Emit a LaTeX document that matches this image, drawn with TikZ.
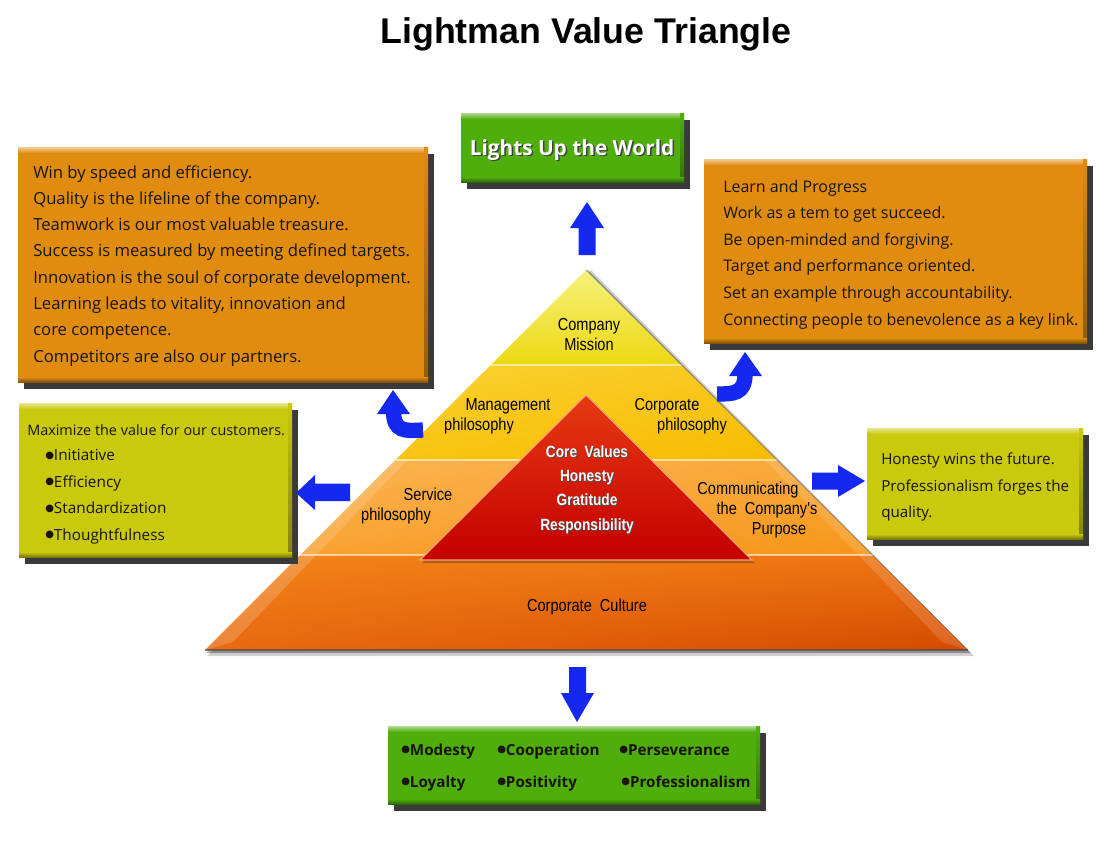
\documentclass[tikz,border=0pt]{standalone}
\usepackage{fontspec}
\setmainfont{Open Sans}
\newfontfamily\titlefont{Liberation Sans}
\newfontfamily\pyrfont[FakeStretch=0.84]{Liberation Sans}
\newfontfamily\dejavu{DejaVu Sans}
\newcommand\bul{\raisebox{1.7pt}{\dejavu\fontsize{7.5}{8}\selectfont ●}}
\usetikzlibrary{calc,fit,shadings}
\definecolor{orbox}{HTML}{E08C10}
\definecolor{olbox}{HTML}{C9C90E}
\definecolor{grbox}{HTML}{4FAE0C}
\definecolor{shad}{HTML}{3A3A3A}
\definecolor{arrblue}{HTML}{1428F0}
\definecolor{txt}{HTML}{1A1408}
\definecolor{c4ul}{HTML}{F38418}\definecolor{c4ur}{HTML}{EE7412}\definecolor{c4ll}{HTML}{E96A10}\definecolor{c4lr}{HTML}{D44A00}
\definecolor{c3ul}{HTML}{FBB452}\definecolor{c3ur}{HTML}{F9A838}\definecolor{c3ll}{HTML}{F9A232}\definecolor{c3lr}{HTML}{F6961A}
\definecolor{c2ul}{HTML}{FAD030}\definecolor{c2ur}{HTML}{F9C820}\definecolor{c2ll}{HTML}{F9C410}\definecolor{c2lr}{HTML}{F6BC00}
\definecolor{c1t}{HTML}{F6F27C}\definecolor{c1b}{HTML}{EDD812}
\definecolor{redt}{HTML}{E63A12}\definecolor{redb}{HTML}{C40000}\definecolor{redl}{HTML}{F6A878}
\newcommand\bevbox[6]{%
  \fill[shad] (#2+6,#3+7) rectangle (#4+6,#5+7);
  \path (#2,#3) coordinate (#1-nw) (#4,#5) coordinate (#1-se);
  \node[fit=(#1-nw)(#1-se), inner sep=0pt, fill=#6] (#1) {};
  \shade[top color=#6!45!white, bottom color=#6] (#2,#3) rectangle (#4,#3+6);
  \shade[top color=#6, bottom color=#6!65!black] (#4-4,#3) rectangle (#4,#5);
  \shade[top color=#6, bottom color=#6!60!black] (#2,#5-5) rectangle (#4,#5);
}
\tikzset{
  lotxt/.style={anchor=base west, inner sep=0pt, text=txt, font=\fontsize{12.5}{14}\selectfont},
  rotxt/.style={anchor=base west, inner sep=0pt, text=txt, font=\fontsize{12.0}{14}\selectfont},
  bultxt/.style={anchor=base west, inner sep=0pt, text=txt, font=\fontsize{11.5}{14}\selectfont},
  rgtxt/.style={anchor=base west, inner sep=0pt, text=txt, font=\fontsize{11.4}{14}\selectfont},
  smalltxt/.style={anchor=base west, inner sep=0pt, text=txt, font=\fontsize{10.8}{14}\selectfont},
  boldtxt/.style={anchor=base west, inner sep=0pt, text=txt, font=\bfseries\fontsize{11.4}{14}\selectfont},
  pyr/.style={anchor=base, inner sep=0pt, text=black, font=\pyrfont\fontsize{13}{14}\selectfont},
  corew/.style={anchor=base, inner sep=0pt, text=white, font=\pyrfont\bfseries\fontsize{12.2}{14}\selectfont},
  cores/.style={anchor=base, inner sep=0pt, text=black!70, font=\pyrfont\bfseries\fontsize{12.2}{14}\selectfont},
  blk/.style={fill=arrblue, draw=none},
}
\begin{document}
\begin{tikzpicture}[x=0.75pt,y=-0.75pt]
\useasboundingbox (0,0) rectangle (1099,840);
\fill[white] (0,0) rectangle (1099,840);

% title
\node[anchor=base, inner sep=0pt, font=\titlefont\bfseries\fontsize{26.8}{30}\selectfont] (title) at (586,43.5) {Lightman Value Triangle};

% ---------- pyramid ----------
\coordinate (A) at (586,270);
\coordinate (BL) at (205,650);
\coordinate (BR) at (968,650);
\coordinate (L1) at ($(A)!0.25!(BL)$); \coordinate (R1) at ($(A)!0.25!(BR)$);
\coordinate (L2) at ($(A)!0.5!(BL)$);  \coordinate (R2) at ($(A)!0.5!(BR)$);
\coordinate (L3) at ($(A)!0.75!(BL)$); \coordinate (R3) at ($(A)!0.75!(BR)$);
% shadow
\fill[black, opacity=0.18] ($(BL)+(2,6)$) -- ($(BR)+(6,6)$) -- ($(A)+(5,0)$) -- cycle;
\fill[black, opacity=0.30] ($(BL)+(1,3)$) -- ($(BR)+(3,3)$) -- ($(A)+(2,0)$) -- cycle;
% layers
\shade[upper left=c4ul, upper right=c4ur, lower left=c4ll, lower right=c4lr] (L3) -- (R3) -- (BR) -- (BL) -- cycle;
\shade[upper left=c3ul, upper right=c3ur, lower left=c3ll, lower right=c3lr] (L2) -- (R2) -- (R3) -- (L3) -- cycle;
\shade[upper left=c2ul, upper right=c2ur, lower left=c2ll, lower right=c2lr] (L1) -- (R1) -- (R2) -- (L2) -- cycle;
\shade[top color=c1t, bottom color=c1b] (A) -- (R1) -- (L1) -- cycle;
% edge highlights
\fill[white, opacity=0.18] (BL) -- (L3) -- ($(L3)+(16,0)$) -- ($(BL)+(28,-8)$) -- cycle;
\fill[white, opacity=0.15] (L3) -- (L2) -- ($(L2)+(12,0)$) -- ($(L3)+(16,0)$) -- cycle;
\fill[white, opacity=0.14] (BR) -- (R3) -- ($(R3)+(-14,0)$) -- ($(BR)+(-26,-8)$) -- cycle;
\fill[white, opacity=0.12] (R3) -- (R2) -- ($(R2)+(-12,0)$) -- ($(R3)+(-14,0)$) -- cycle;
% separators
\draw[white, opacity=0.55, line width=0.8pt] (L1) -- (R1) (L2) -- (R2) (L3) -- (R3);
\draw[black!60, line width=0.6pt, opacity=0.5] (A) -- (BR);
\draw[black!70, line width=1pt, opacity=0.7] (BL) -- (BR);
% red core triangle
\coordinate (CA) at (586,395);
\coordinate (CL) at (420,560);
\coordinate (CR) at (752,560);
\fill[black, opacity=0.25] ($(CL)+(2,3)$) -- ($(CR)+(3,3)$) -- ($(CA)+(2,1)$) -- cycle;
\shade[top color=redt, bottom color=redb] (CA) -- (CR) -- (CL) -- cycle;
\draw[redl, line width=0.8pt] (CA) -- (CR) -- (CL) -- cycle;

% pyramid labels
\node[pyr] (cm1) at (589,330) {Company};
\node[pyr] (cm2) at (589,350) {Mission};
\node[pyr] (mp1) at (508,410) {Management};
\node[pyr] (mp2) at (479,430) {philosophy};
\node[pyr] (cp1) at (667,410) {Corporate};
\node[pyr] (cp2) at (692,430) {philosophy};
\node[pyr] (sp1) at (428,500) {Service};
\node[pyr] (sp2) at (396,520) {philosophy};
\node[pyr] (cc1) at (748,494) {Communicating};
\node[pyr] (cc2) at (767,514) {the\ \ Company's};
\node[pyr] (cc3) at (779,534) {Purpose};
\node[pyr] (cul) at (587,611) {Corporate\ \ Culture};
\foreach \t/\yy [count=\i] in {{Core\ \ Values}/457, Honesty/481, Gratitude/505, Responsibility/530}{
  \node[cores] (cvs\i) at (588,\yy+1.4) {\t};
  \node[corew] (cv\i) at (587,\yy) {\t};
}

% ---------- boxes ----------
\bevbox{top}{461}{113}{684}{182}{grbox}
\node[anchor=base, inner sep=0pt, text=black!75, font=\bfseries\fontsize{15.6}{18}\selectfont] (topts) at (573.5,156.5) {Lights Up the World};
\node[anchor=base, inner sep=0pt, text=white, font=\bfseries\fontsize{15.6}{18}\selectfont] (topt) at (572,155) {Lights Up the World};

\bevbox{lo}{18}{147}{428}{382}{orbox}
\foreach \t [count=\i] in {Win by speed and efficiency., Quality is the lifeline of the company., Teamwork is our most valuable treasure., Success is measured by meeting defined targets., Innovation is the soul of corporate development., {Learning leads to vitality, innovation and}, core competence., Competitors are also our partners.}
  \node[lotxt] (lo\i) at (33,{178+(\i-1)*26.3}) {\t};

\bevbox{ro}{704}{159}{1087}{343}{orbox}
\foreach \t [count=\i] in {Learn and Progress, Work as a tem to get succeed., Be open-minded and forgiving., Target and performance oriented., Set an example through accountability., Connecting people to benevolence as a key link.}
  \node[rotxt] (ro\i) at (723,{192+(\i-1)*26.6}) {\t};

\bevbox{lg}{19}{403}{292}{557}{olbox}
\node[smalltxt] (lg0) at (27,435) {Maximize the value for our customers.};
\foreach \t [count=\i] in {Initiative, Efficiency, Standardization, Thoughtfulness}
  \node[bultxt] (lg\i) at (45,{460.5+(\i-1)*26.5}) {\bul\t};

\bevbox{rg}{867}{428}{1083}{539}{olbox}
\foreach \t [count=\i] in {Honesty wins the future., Professionalism forges the, quality.}
  \node[rgtxt] (rg\i) at (881,{464.5+(\i-1)*26.5}) {\t};

\bevbox{bg}{388}{726}{760}{804}{grbox}
\node[boldtxt] (b1) at (401,755) {\bul Modesty};
\node[boldtxt] (b2) at (497,755) {\bul Cooperation};
\node[boldtxt] (b3) at (619,755) {\bul Perseverance};
\node[boldtxt] (b4) at (401,787) {\bul Loyalty};
\node[boldtxt] (b5) at (497,787) {\bul Positivity};
\node[boldtxt] (b6) at (621,787) {\bul Professionalism};

% ---------- arrows ----------
% up
\fill[blk] (587,202) -- (604,228) -- (595.5,228) -- (595.5,255) -- (578.5,255) -- (578.5,228) -- (570,228) -- cycle;
% down
\fill[blk] (577,722) -- (594,693) -- (586,693) -- (586,667) -- (569,667) -- (569,693) -- (561,693) -- cycle;
% left
\fill[blk] (296,493) -- (315,475) -- (315,483.5) -- (350,483.5) -- (350,501) -- (315,501) -- (315,510) -- cycle;
% right
\fill[blk] (865,481) -- (838,465) -- (838,472.5) -- (812,472.5) -- (812,489.5) -- (838,489.5) -- (838,497) -- cycle;
% curved left
\draw[arrblue, line width=11.5pt] (393.5,411) .. controls (393.5,432) and (405,431) .. (423,430);
\fill[blk] (393,390) -- (410,414) -- (377,414) -- cycle;
% curved right
\draw[arrblue, line width=11.5pt] (745,374) .. controls (745,394) and (733,394) .. (717,394);
\fill[blk] (745,352) -- (762,376) -- (729,376) -- cycle;
\end{tikzpicture}
\end{document}
